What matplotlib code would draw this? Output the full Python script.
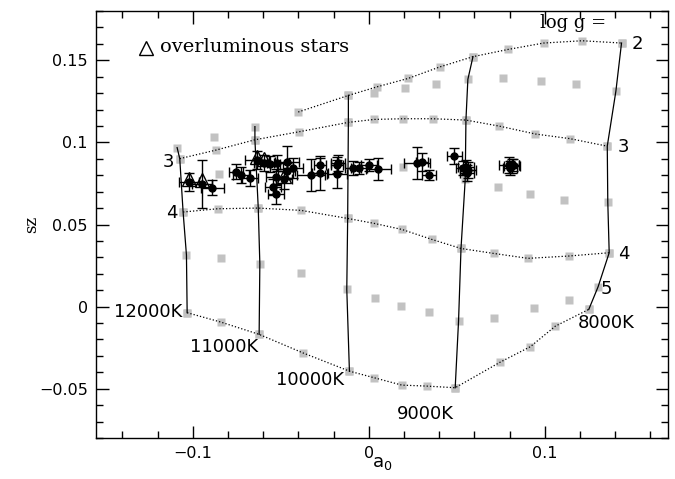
import matplotlib.pyplot as plt
from matplotlib.ticker import MultipleLocator, FuncFormatter

# -----------------------------------
# MODEL GRID (a0, sz)
# -----------------------------------

# constant temperature lines (solid)
t12000_a = [-0.1089, -0.1074, -0.1055, -0.1036, -0.1032]
t12000_sz = [0.0968, 0.0901, 0.0576, 0.0314, -0.0037]

t11000_a = [-0.0647, -0.0647, -0.0628, -0.0619, -0.0623]
t11000_sz = [0.1096, 0.1016, 0.0600, 0.0261, -0.0169]

t10000_a = [-0.0116, -0.0116, -0.0120, -0.0125, -0.0110]
t10000_sz = [0.1286, 0.1122, 0.0537, 0.0105, -0.0393]

t9000_a = [0.0592, 0.0563, 0.0552, 0.0548, 0.0524, 0.0510, 0.0491]
t9000_sz = [0.1522, 0.1384, 0.1136, 0.0775, 0.0354, -0.0088, -0.0494]

t8000_a = [0.1436, 0.1404, 0.1355, 0.1358, 0.1366, 0.1303, 0.1250]
t8000_sz = [0.1605, 0.1312, 0.0977, 0.0636, 0.0328, 0.0121, -0.0017]

# constant gravity lines (dotted)
g2_a = [-0.0401, -0.0116, 0.0049, 0.0225, 0.0402, 0.0592, 0.0791, 0.0994, 0.1212, 0.1436]
g2_sz = [0.1185, 0.1286, 0.1339, 0.1390, 0.1459, 0.1522, 0.1566, 0.1605, 0.1619, 0.1605]

g3_a = [-0.1074, -0.0869, -0.0647, -0.0395, -0.0116, 0.0032, 0.0197,
        0.0364, 0.0552, 0.0742, 0.0947, 0.1142, 0.1355]
g3_sz = [0.0901, 0.0953, 0.1016, 0.1065, 0.1122, 0.1140, 0.1144,
         0.1144, 0.1136, 0.1099, 0.1051, 0.1023, 0.0977]

g4_a = [-0.1055, -0.0859, -0.0628, -0.0385, -0.0120, 0.0030, 0.0188,
        0.0359, 0.0524, 0.0709, 0.0905, 0.1136, 0.1366]
g4_sz = [0.0576, 0.0596, 0.0600, 0.0586, 0.0537, 0.0507, 0.0470,
         0.0409, 0.0354, 0.0324, 0.0294, 0.0308, 0.0328]

g5_a = [-0.1032, -0.0841, -0.0623, -0.0376, -0.0110, 0.0030, 0.0188,
        0.0330, 0.0491, 0.0747, 0.0918, 0.1060, 0.1250]
g5_sz = [-0.0037, -0.0094, -0.0169, -0.0281, -0.0393, -0.0433, -0.0478,
         -0.0484, -0.0494, -0.0338, -0.0244, -0.0119, -0.0017]

# grid points off the drawn lines
extra_a = [-0.0880, -0.0850, 0.0032, 0.0203, 0.0383, 0.0763, 0.0977, 0.1180,
           0.0197, 0.0732, 0.0914, 0.1112, -0.0841, -0.0385, 0.0036,
           0.0182, 0.0343, 0.0709, 0.0937, 0.1136]
extra_sz = [0.1030, 0.0805, 0.1298, 0.1333, 0.1358, 0.1392, 0.1373, 0.1353,
            0.0852, 0.0730, 0.0683, 0.0647, 0.0294, 0.0202, 0.0054,
            0.0003, -0.0033, -0.0068, -0.0011, 0.0040]

# -----------------------------------
# OBSERVED STARS
# -----------------------------------

star_a = [-0.1021, -0.0949, -0.0888, -0.0757, -0.0727, -0.0676, -0.0637, -0.0596,
          -0.0562, -0.0520, -0.0467, -0.0429, -0.0467, -0.0480, -0.0529, -0.0546,
          -0.0529, -0.0328, -0.0277, -0.0277, -0.0179, -0.0179, -0.0175, -0.0088,
          -0.0054, 0.0003, 0.0055, 0.0273, 0.0303, 0.0343, 0.0485, 0.0554,
          0.0565, 0.0559, 0.0537, 0.0795, 0.0814, 0.0804, 0.0821]
star_sz = [0.0758, 0.0748, 0.0724, 0.0822, 0.0799, 0.0781, 0.0890, 0.0876,
           0.0870, 0.0876, 0.0882, 0.0842, 0.0825, 0.0775, 0.0789, 0.0728,
           0.0688, 0.0801, 0.0862, 0.0815, 0.0862, 0.0805, 0.0876, 0.0842,
           0.0846, 0.0862, 0.0840, 0.0872, 0.0882, 0.0801, 0.0915, 0.0848,
           0.0834, 0.0815, 0.0845, 0.0862, 0.0856, 0.0842, 0.0860]
star_ea = [0.0057, 0.0057, 0.0063, 0.0040, 0.0046, 0.0046, 0.0068, 0.0057,
           0.0057, 0.0057, 0.0068, 0.0057, 0.0046, 0.0046, 0.0057, 0.0046,
           0.0046, 0.0080, 0.0034, 0.0046, 0.0034, 0.0057, 0.0040, 0.0046,
           0.0046, 0.0046, 0.0071, 0.0074, 0.0034, 0.0040, 0.0043, 0.0046,
           0.0046, 0.0040, 0.0040, 0.0057, 0.0046, 0.0040, 0.0034]
star_esz = [0.0055, 0.0146, 0.0046, 0.0046, 0.0049, 0.0049, 0.0055, 0.0049,
            0.0049, 0.0049, 0.0097, 0.0061, 0.0049, 0.0061, 0.0049, 0.0049,
            0.0061, 0.0097, 0.0046, 0.0104, 0.0049, 0.0085, 0.0049, 0.0043,
            0.0037, 0.0037, 0.0067, 0.0097, 0.0055, 0.0030, 0.0049, 0.0043,
            0.0049, 0.0049, 0.0043, 0.0049, 0.0043, 0.0043, 0.0037]
overlum = [0, 1, 6, 7, 13]   # indices of overluminous stars

# -----------------------------------
# PLOT
# -----------------------------------

plt.rcParams['font.family'] = ['DejaVu Sans']

fig = plt.figure(figsize=(6.75, 4.79), dpi=100)
ax = fig.add_axes([0.1422, 0.0856, 0.8474, 0.8914])

grey = '#c2c2c2'
temp_lines = [(t12000_a, t12000_sz), (t11000_a, t11000_sz), (t10000_a, t10000_sz),
              (t9000_a, t9000_sz), (t8000_a, t8000_sz)]
grav_lines = [(g2_a, g2_sz), (g3_a, g3_sz), (g4_a, g4_sz), (g5_a, g5_sz)]

# grey model squares
for xs, ys in temp_lines + grav_lines:
    ax.plot(xs, ys, 's', color=grey, ms=5.5, mec='none', zorder=1)
ax.plot(extra_a, extra_sz, 's', color=grey, ms=5.5, mec='none', zorder=1)

for xs, ys in temp_lines:
    ax.plot(xs, ys, '-', color='k', lw=0.9, zorder=2)
for xs, ys in grav_lines:
    ax.plot(xs, ys, ':', color='k', lw=0.9, zorder=2)

# stars
ax.errorbar(star_a, star_sz, xerr=star_ea, yerr=star_esz, fmt='o', color='k',
            ms=5, elinewidth=1, capsize=3.5, capthick=1, zorder=4)
ax.plot([star_a[i] for i in overlum], [star_sz[i] + 0.002 for i in overlum], '^',
        ms=10, mfc='none', mec='k', mew=1, zorder=3)

# legend
ax.plot([0.087], [0.913], '^', ms=10, mfc='none', mec='k', mew=1,
        transform=ax.transAxes)
ax.text(0.112, 0.916, 'overluminous stars', transform=ax.transAxes,
        family='DejaVu Serif', fontsize=14, va='center')

# grid labels
lab = dict(fontsize=13, ha='center', va='center')
ax.text(0.1163, 0.1730, 'log g =', family='DejaVu Serif', fontsize=13,
        ha='center', va='center')
ax.text(0.1528, 0.1597, '2', **lab)
ax.text(0.1447, 0.0969, '3', **lab)
ax.text(0.1447, 0.0318, '4', **lab)
ax.text(0.1347, 0.0105, '5', **lab)
ax.text(-0.1141, 0.0879, '3', **lab)
ax.text(-0.1119, 0.0573, '4', **lab)
ax.text(0.1347, -0.0099, '8000K', **lab)
ax.text(-0.1256, -0.0035, '12000K', **lab)
ax.text(-0.0823, -0.0243, '11000K', **lab)
ax.text(-0.0334, -0.0444, '10000K', **lab)
ax.text(0.0320, -0.0653, '9000K', **lab)

# axes
ax.set_xlim(-0.155, 0.17)
ax.set_ylim(-0.08, 0.18)
ax.xaxis.set_major_locator(MultipleLocator(0.1))
ax.xaxis.set_minor_locator(MultipleLocator(0.02))
ax.yaxis.set_major_locator(MultipleLocator(0.05))
ax.yaxis.set_minor_locator(MultipleLocator(0.01))

fmt = FuncFormatter(lambda v, p: '0' if abs(v) < 1e-9 else ('%g' % round(v, 3)).replace('-', '\u2212'))
ax.xaxis.set_major_formatter(fmt)
ax.yaxis.set_major_formatter(fmt)

ax.tick_params(which='both', direction='in', top=True, right=True, labelsize=11.5)
ax.tick_params(which='major', length=9, width=1, pad=6)
ax.tick_params(which='minor', length=5, width=1)
for s in ax.spines.values():
    s.set_linewidth(1)

ax.set_xlabel('a$_0$', fontsize=13)
ax.set_ylabel('sz', family='DejaVu Serif', fontsize=12)
ax.xaxis.set_label_coords(0.5, -0.038)
ax.yaxis.set_label_coords(-0.097, 0.5)

plt.savefig('out.png', dpi=100)
